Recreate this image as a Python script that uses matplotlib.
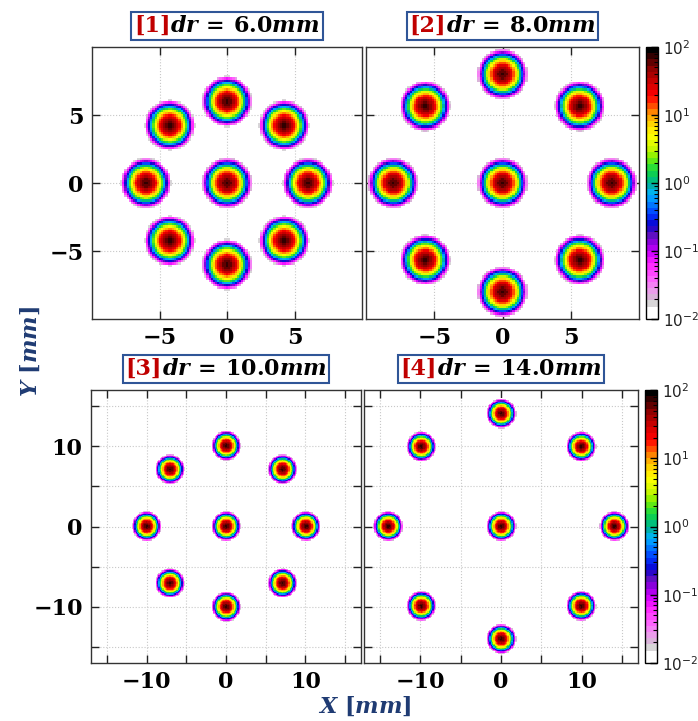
import matplotlib
matplotlib.use('Agg')
import matplotlib.pyplot as plt
import numpy as np
from matplotlib.colors import LinearSegmentedColormap, LogNorm
from matplotlib.ticker import FixedLocator, MultipleLocator, FuncFormatter
from matplotlib.offsetbox import TextArea, HPacker, AnchoredOffsetbox

plt.rcParams['mathtext.fontset'] = 'custom'
plt.rcParams['mathtext.it'] = 'DejaVu Serif:italic:bold'
plt.rcParams['mathtext.rm'] = 'DejaVu Serif:bold'
plt.rcParams['mathtext.bf'] = 'DejaVu Serif:bold'

# beam layout per panel: ring radius and plotted half-width (mm)
panel_ids = [1, 2, 3, 4]
dr_mm = [6.0, 8.0, 10.0, 14.0]
half_width = [10.0, 10.0, 17.0, 17.0]
ring_angles_deg = [0, 45, 90, 135, 180, 225, 270, 315]
beam_sigma = 0.45     # mm
beam_peak = 70.0
bin_mm = 0.16

# palette anchors (log10 of value, colour)
pal_logs = [-2.0, -1.88, -1.82, -1.72, -1.6, -1.42, -1.22, -1.05, -0.9, -0.78,
            -0.64, -0.47, -0.32, -0.17, -0.04, 0.1, 0.25, 0.38, 0.53, 0.72,
            0.9, 1.05, 1.16, 1.3, 1.5, 1.72, 1.88, 2.0]
pal_cols = ['#ffffff', '#ffffff', '#d8d8d8', '#dab4da', '#f096f0', '#ff5cff',
            '#ff20ff', '#d000ff', '#9000e0', '#5a10c0', '#0a00d0', '#0038ff',
            '#0078ff', '#00b4ff', '#00b0a8', '#00c860', '#30e030', '#80f000',
            '#d0f800', '#ffff00', '#ffd000', '#ff9000', '#ff5000', '#ff0000',
            '#d00000', '#900000', '#400000', '#000000']
cmap = LinearSegmentedColormap.from_list(
    'beam', [((l + 2) / 4, c) for l, c in zip(pal_logs, pal_cols)]).resampled(44)
cmap.set_bad(alpha=0)
norm = LogNorm(1e-2, 1e2)


def beam_map(dr, hw):
    edges = np.arange(-hw, hw + bin_mm / 2, bin_mm)
    c = 0.5 * (edges[1:] + edges[:-1])
    xx, yy = np.meshgrid(c, c)
    centres = [(0.0, 0.0)] + [(dr * np.cos(np.radians(a)), dr * np.sin(np.radians(a)))
                              for a in ring_angles_deg]
    z = np.zeros_like(xx)
    for cx, cy in centres:
        z += beam_peak * np.exp(-((xx - cx) ** 2 + (yy - cy) ** 2) / (2 * beam_sigma ** 2))
    return np.ma.masked_less(z, 1e-2), edges


def minus(v, pos=None):
    return ('%d' % v).replace('-', '\u2212')


W, H = 698, 721
fig = plt.figure(figsize=(W / 100, H / 100), dpi=100)

# axes boxes in pixels: left, top, right, bottom
boxes = [(92, 47, 362, 319), (366, 47, 639, 319),
         (91, 390, 361, 663), (364, 390, 638, 663)]
cbar_boxes = [(646, 47, 658, 319), (645, 390, 657, 663)]


def frac(b):
    l, t, r, bt = b
    return [l / W, 1 - bt / H, (r - l) / W, (bt - t) / H]


tick_font = dict(family='DejaVu Serif', weight='bold', size=16)
images = []
for i, (pid, dr, hw) in enumerate(zip(panel_ids, dr_mm, half_width)):
    ax = fig.add_axes(frac(boxes[i]))
    z, edges = beam_map(dr, hw)
    im = ax.imshow(z, extent=(edges[0], edges[-1], edges[0], edges[-1]), origin='lower',
                   cmap=cmap, norm=norm, interpolation='nearest', zorder=1, aspect='auto')
    images.append(im)
    ax.set_xlim(-hw, hw)
    ax.set_ylim(-hw, hw)
    ax.set_axisbelow(True)
    if hw < 12:
        ax.xaxis.set_major_locator(FixedLocator([-5, 0, 5]))
        ax.yaxis.set_major_locator(FixedLocator([-5, 0, 5]))
        fmt = FuncFormatter(minus)
    else:
        ax.xaxis.set_major_locator(MultipleLocator(5))
        ax.yaxis.set_major_locator(MultipleLocator(5))
        fmt = FuncFormatter(lambda v, p: minus(v) if round(v) % 10 == 0 else '')
    ax.xaxis.set_major_formatter(fmt)
    ax.yaxis.set_major_formatter(fmt)
    ax.grid(True, color='#c8c8c8', linestyle=':', linewidth=0.8)
    ax.tick_params(direction='in', top=True, right=True, length=6, width=1,
                   color='#222222', pad=6)
    if i % 2 == 1:
        ax.tick_params(labelleft=False)
    for lab in ax.get_xticklabels() + ax.get_yticklabels():
        lab.set_fontfamily(tick_font['family'])
        lab.set_fontweight(tick_font['weight'])
        lab.set_fontsize(tick_font['size'])
    for sp in ax.spines.values():
        sp.set_color('#333333')
        sp.set_linewidth(1.0)

    # boxed panel title: red index tag followed by the ring spacing
    tag = TextArea('[%d]' % pid, textprops=dict(color='#c00000', fontsize=16,
                                                 fontweight='bold', family='DejaVu Serif'))
    body = TextArea(r'$dr\,=\,%.1fmm$' % dr, textprops=dict(color='black', fontsize=16))
    pack = HPacker(children=[tag, body], align='baseline', pad=0, sep=0)
    anc = AnchoredOffsetbox(loc='lower center', child=pack, pad=0.2, borderpad=0,
                            frameon=True, bbox_to_anchor=(0.5, 1.026),
                            bbox_transform=ax.transAxes)
    anc.patch.set_boxstyle('square', pad=0)
    anc.patch.set_edgecolor('#2f5597')
    anc.patch.set_linewidth(1.5)
    ax.add_artist(anc)

for k, cb in enumerate(cbar_boxes):
    cax = fig.add_axes(frac(cb))
    cbar = fig.colorbar(images[2 * k + 1], cax=cax)
    cbar.outline.set_linewidth(1.0)
    cax.tick_params(which='both', direction='in', color='black', labelsize=11,
                    labelcolor='#222222')
    cax.tick_params(which='major', length=5, width=1)
    cax.tick_params(which='minor', length=3, width=0.8)

fig.text(0.043, 0.512, r'$Y\ [mm]$', rotation=90, color='#1f3b73', fontsize=16,
         ha='center', va='center')
fig.text(0.523, 0.02, r'$X\ [mm]$', color='#1f3b73', fontsize=16,
         ha='center', va='center')

fig.savefig('out.png', dpi=100)
